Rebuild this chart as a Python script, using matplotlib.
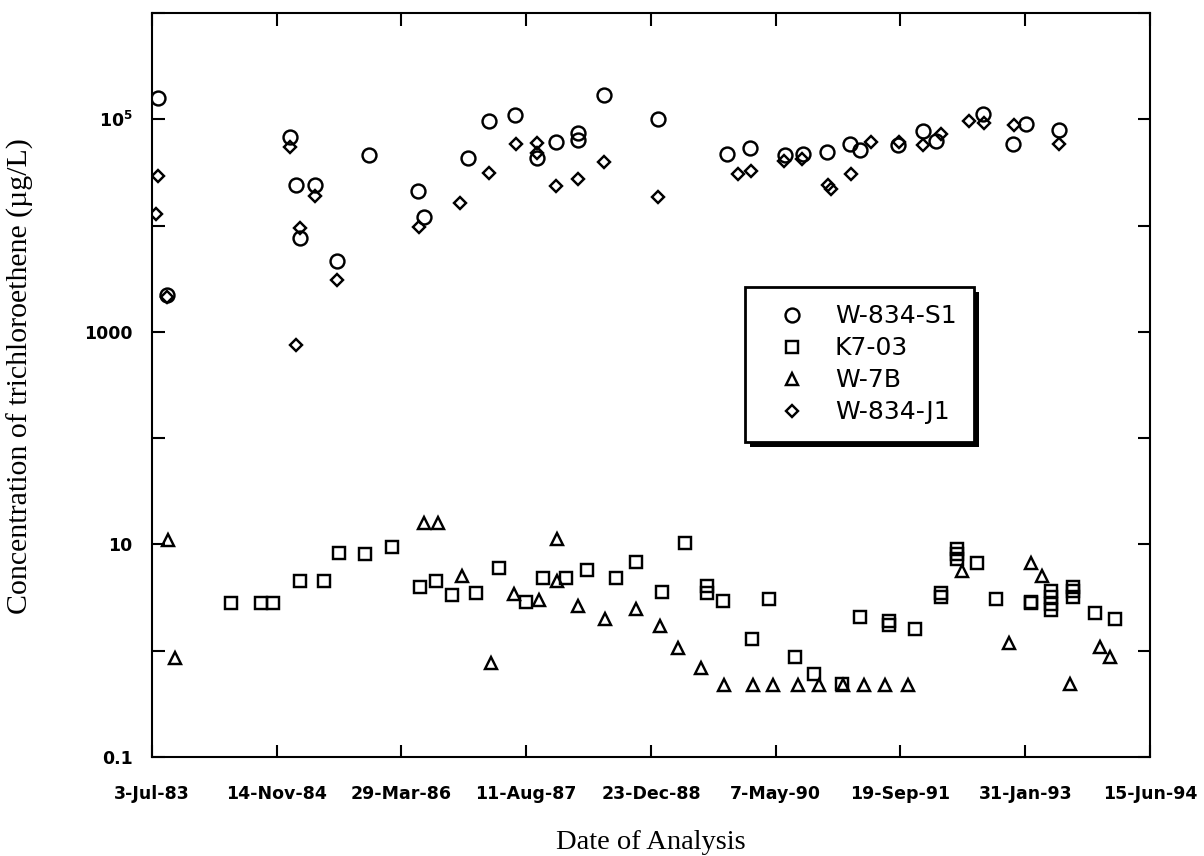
import numpy as np
import pandas as pd
import matplotlib
matplotlib.use("Agg")
import matplotlib.pyplot as plt
from matplotlib.ticker import FixedLocator, NullLocator
from matplotlib.patches import Rectangle
from matplotlib.transforms import IdentityTransform

# sampling dates are given as days after 3-Jul-83, concentrations in ug/L
base_date = pd.Timestamp("1983-07-03")

s1_days = [23, 59, 555, 576, 592, 655, 743, 871, 1068, 1089, 1265, 1349, 1456,
           1543, 1619, 1707, 1707, 1812, 2029, 2305, 2399, 2539, 2608, 2705,
           2799, 2836, 2992, 3092, 3143, 3332, 3452, 3505, 3635]
s1_conc = [1.59e5, 2.22e3, 6.76e4, 2.40e4, 7.67e3, 2.40e4, 4.67e3, 4.60e4,
           2.11e4, 1.21e4, 4.29e4, 9.68e4, 1.10e5, 4.29e4, 6.14e4, 7.36e4,
           6.37e4, 1.69e5, 1.00e5, 4.67e4, 5.32e4, 4.60e4, 4.67e4, 4.89e4,
           5.81e4, 5.14e4, 5.73e4, 7.74e4, 6.24e4, 1.13e5, 5.81e4, 9.02e4,
           7.91e4]

k7_days = [315, 436, 485, 595, 689, 748, 855, 961, 1076, 1139, 1201, 1299,
           1392, 1499, 1569, 1659, 1745, 1859, 1941, 2043, 2136, 2223, 2223,
           2289, 2405, 2472, 2576, 2652, 2765, 2836, 2956, 2956, 3059, 3163,
           3163, 3225, 3225, 3225, 3308, 3383, 3525, 3525, 3603, 3603, 3603,
           3603, 3692, 3692, 3692, 3779, 3859]
k7_conc = [2.83, 2.83, 2.83, 4.56, 4.56, 8.24, 8.05, 9.51, 4.00, 4.53, 3.34,
           3.47, 5.96, 2.89, 4.80, 4.80, 5.74, 4.86, 6.79, 3.59, 10.4, 4.09,
           3.52, 2.94, 1.29, 3.06, 0.88, 0.60, 0.49, 2.06, 1.92, 1.76, 1.59,
           3.49, 3.20, 9.14, 8.13, 7.24, 6.64, 3.04, 2.90, 2.78, 3.65, 3.20,
           2.75, 2.41, 4.00, 3.61, 3.20, 2.28, 1.99]

w7b_days = [65, 92, 1092, 1148, 1241, 1359, 1452, 1552, 1623, 1623, 1709,
            1816, 1941, 2036, 2109, 2199, 2292, 2408, 2488, 2589, 2672, 2769,
            2852, 2939, 3032, 3248, 3436, 3525, 3567, 3679, 3801, 3839]
w7b_conc = [11.0, 0.85, 15.8, 15.8, 5.05, 0.76, 3.41, 3.00, 11.2, 4.56, 2.65,
            1.99, 2.45, 1.71, 1.05, 0.68, 0.48, 0.48, 0.48, 0.48, 0.48, 0.48,
            0.48, 0.48, 0.48, 5.66, 1.18, 6.64, 5.08, 0.49, 1.09, 0.88]

j1_days = [23, 16, 59, 553, 577, 592, 655, 743, 1069, 1236, 1352, 1459, 1543,
           1543, 1619, 1707, 1812, 2029, 2348, 2401, 2532, 2605, 2708, 2720,
           2803, 2883, 2996, 3089, 3163, 3276, 3335, 3456, 3635]
j1_conc = [2.94e4, 1.29e4, 2.14e3, 5.45e4, 752, 9.42e3, 1.91e4, 3.07e3,
           9.75e3, 1.64e4, 3.14e4, 5.85e4, 6.02e4, 4.78e4, 2.35e4, 2.74e4,
           3.98e4, 1.84e4, 3.03e4, 3.26e4, 4.04e4, 4.23e4, 2.40e4, 2.23e4,
           3.05e4, 6.14e4, 6.14e4, 5.73e4, 7.21e4, 9.62e4, 9.14e4, 8.81e4,
           5.85e4]

ytick_vals = [0.1, 1, 10, 100, 1000, 1e4, 1e5, 1e6]
ytick_text = ["0.1", "", "10", "", "1000", "", r"$\mathbf{10^5}$", ""]


def to_dates(days):
    return base_date + pd.to_timedelta(days, unit="D")


tick_dates = [base_date + pd.Timedelta(days=500 * k) for k in range(9)]
tick_text = [f"{d.day}-{d.strftime('%b-%y')}" for d in tick_dates]

plt.rcParams["mathtext.fontset"] = "dejavusans"

fig = plt.figure(figsize=(12.04, 8.56), dpi=100)
ax = fig.add_axes([0.1262, 0.1157, 0.8289, 0.8691])

mk = dict(linestyle="none", markerfacecolor="none", markeredgecolor="black",
          markeredgewidth=1.75)
ax.plot(to_dates(s1_days), s1_conc, marker="o", markersize=10, label="W-834-S1", **mk)
ax.plot(to_dates(k7_days), k7_conc, marker="s", markersize=8.5, label="K7-03", **mk)
ax.plot(to_dates(w7b_days), w7b_conc, marker="^", markersize=9, label="W-7B", **mk)
ax.plot(to_dates(j1_days), j1_conc, marker="D", markersize=6.5, label="W-834-J1", **mk)

ax.set_yscale("log")
ax.set_ylim(0.1, 1e6)
ax.set_xlim(tick_dates[0], tick_dates[-1])

ax.yaxis.set_major_locator(FixedLocator(ytick_vals))
ax.yaxis.set_minor_locator(NullLocator())
ax.set_yticklabels(ytick_text)
ax.set_xticks(tick_dates)
ax.set_xticklabels(tick_text)

ax.tick_params(axis="both", direction="in", length=9, width=1.5,
               top=True, right=True)
ax.tick_params(axis="x", pad=20, labelsize=12.5)
ax.tick_params(axis="y", pad=14, labelsize=12.5)
for lab in ax.get_xticklabels() + ax.get_yticklabels():
    lab.set_fontweight("bold")
    lab.set_family("DejaVu Sans")

for sp in ax.spines.values():
    sp.set_linewidth(1.5)

ax.set_xlabel("Date of Analysis", family="Liberation Serif", fontsize=20.5)
ax.set_ylabel("Concentration of trichloroethene (\u00b5g/L)",
              family="Liberation Serif", fontsize=21.5)
ax.xaxis.set_label_coords(0.5, -0.098)
ax.yaxis.set_label_coords(-0.118, 0.512)

leg = ax.legend(loc="upper left", bbox_to_anchor=(0.594, 0.632),
                borderaxespad=0, fancybox=False, frameon=True,
                prop={"family": "DejaVu Sans", "size": 18},
                handlelength=2.4, handletextpad=0.5, labelspacing=0.32,
                borderpad=0.7)
leg.get_frame().set_edgecolor("black")
leg.get_frame().set_linewidth(2)
leg.get_frame().set_alpha(1)

# heavy drop shadow behind the legend box
fig.canvas.draw()
bb = leg.get_window_extent()
ax.add_patch(Rectangle((bb.x0 + 5, bb.y0 - 5), bb.width, bb.height,
                       transform=IdentityTransform(), facecolor="black",
                       edgecolor="none", zorder=4.9, clip_on=False))

fig.savefig("out.png", dpi=100)
